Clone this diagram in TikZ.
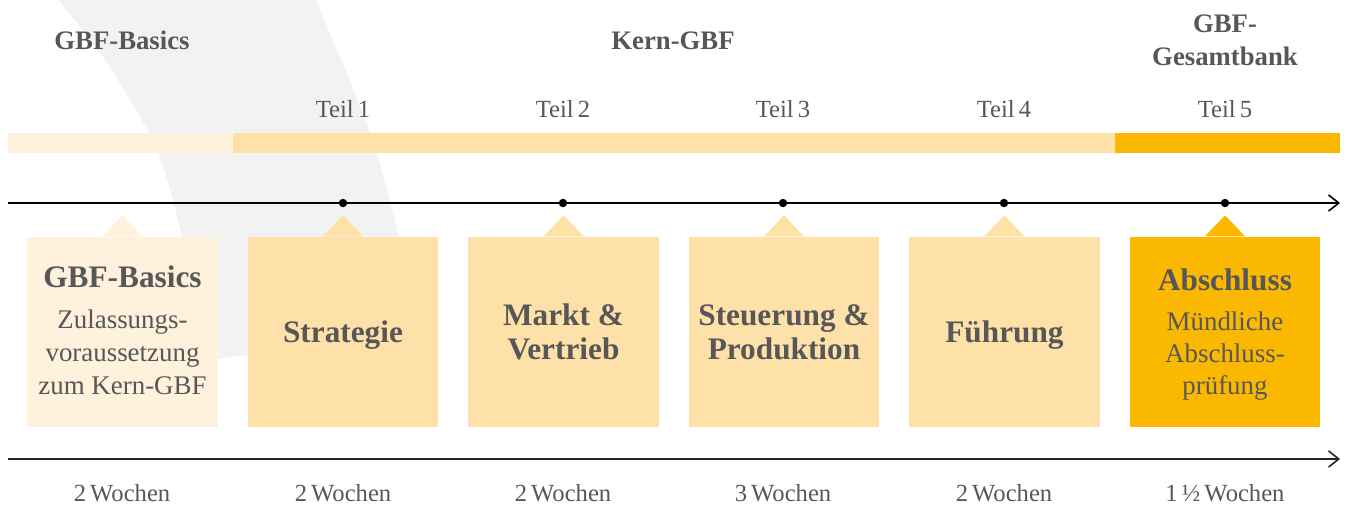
\documentclass[tikz,border=0pt]{standalone}
\usepackage{fontspec}
\setmainfont{Liberation Serif}
\usetikzlibrary{arrows.meta}
\definecolor{txt}{HTML}{575757}
\definecolor{cream}{HTML}{FEF2DD}
\definecolor{sand}{HTML}{FEE1A9}
\definecolor{gold}{HTML}{FAB800}
\definecolor{swoosh}{HTML}{F2F2F2}
\begin{document}
\begin{tikzpicture}[x=0.01cm,y=-0.01cm,
  head/.style={font=\fontsize{7.6pt}{9pt}\selectfont\bfseries, text=txt, anchor=base, inner sep=0pt},
  teil/.style={font=\fontsize{7pt}{8pt}\selectfont, text=txt, anchor=base, inner sep=0pt},
  btitle/.style={font=\fontsize{8.9pt}{10pt}\selectfont\bfseries, text=txt, anchor=base, inner sep=0pt},
  bbody/.style={font=\fontsize{7.65pt}{9pt}\selectfont, text=txt, anchor=base, inner sep=0pt},
  box/.style={rectangle, inner sep=0pt, minimum width=1.905cm, minimum height=1.90cm},
  dot/.style={circle, fill=black, inner sep=0pt, minimum size=2.4pt},
  axis/.style={line width=0.45pt, -{Straight Barb[length=2.9pt,width=4.6pt,line width=0.45pt]}}
]
\useasboundingbox (0,0) rectangle (1347,508);
% background swoosh
\fill[swoosh] plot[smooth] coordinates {(57,-2) (105,60) (157,150) (185,250) (207,360)}
  -- plot[smooth] coordinates {(418,334) (402,250) (370,133) (315,-2)} -- cycle;
% headings
\node[head] (hBasics) at (122,49) {GBF-Basics};
\node[head] (hKern) at (673,49) {Kern-GBF};
\node[head] (hGes1) at (1225,32) {GBF-};
\node[head] (hGes2) at (1225,65) {Gesamtbank};
% Teil labels
\foreach \i/\x in {1/343,2/563,3/783,4/1004,5/1225}
  \node[teil] (teil\i) at (\x,117) {Teil\,\i};
% bar
\fill[cream] (8,133) rectangle (233,153);
\fill[sand] (233,133) rectangle (1115,153);
\fill[gold] (1115,133) rectangle (1340,153);
% top timeline
\coordinate (ta) at (8,203);
\coordinate (tb) at (1340,203);
\draw[axis] (ta) -- (tb);
\foreach \i/\x in {1/343,2/563,3/783,4/1004,5/1225}
  \node[dot] (d\i) at (\x,203) {};
% boxes
\foreach \n/\x/\c in {1/122.5/cream,2/343/sand,3/563.5/sand,4/784/sand,5/1004.5/sand,6/1225/gold}{
  \node[box, fill=\c] (b\n) at (\x,332) {};
  \fill[\c] (b\n.north) ++(-20,0) -- ++(20,-21) -- ++(20,21) -- cycle;
}
% box texts
\node[btitle] (b1t) at (122.5,287) {GBF-Basics};
\node[bbody] (b1a) at (122.5,328) {Zulassungs-};
\node[bbody] (b1b) at (122.5,361) {voraussetzung};
\node[bbody] (b1c) at (122.5,394) {zum Kern-GBF};
\node[btitle] (b2t) at (343,342) {Strategie};
\node[btitle] (b3a) at (563.5,325) {Markt \&};
\node[btitle] (b3b) at (563.5,359) {Vertrieb};
\node[btitle] (b4a) at (784,325) {Steuerung \&};
\node[btitle] (b4b) at (784,359) {Produktion};
\node[btitle] (b5t) at (1004.5,342) {Führung};
\node[btitle] (b6t) at (1225,290) {Abschluss};
\node[bbody] (b6a) at (1225,330) {Mündliche};
\node[bbody] (b6b) at (1225,362) {Abschluss-};
\node[bbody] (b6c) at (1225,394) {prüfung};
% bottom timeline
\coordinate (ba) at (8,459);
\coordinate (bb) at (1340,459);
\draw[axis, draw=black!85] (ba) -- (bb);
% durations
\foreach \i/\x/\t in {1/122/2,2/343/2,3/563/2,4/783/3,5/1004/2,6/1225/1\,½}
  \node[teil] (w\i) at (\x,501) {\t\,Wochen};
\end{tikzpicture}
\end{document}
